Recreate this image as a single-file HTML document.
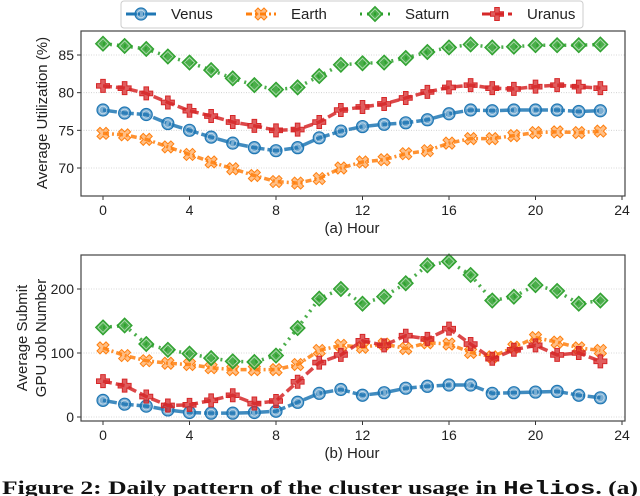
<!DOCTYPE html>
<html><head><meta charset="utf-8"><style>
body{margin:0;background:#fff;width:640px;height:496px;overflow:hidden}
svg{display:block;font-family:"Liberation Sans",sans-serif}
</style></head><body>
<svg id="c" width="640" height="496"></svg>
<script>
const hours=[0,1,2,3,4,5,6,7,8,9,10,11,12,13,14,15,16,17,18,19,20,21,22,23];
const seriesNames=["Venus","Earth","Saturn","Uranus"];
const utilVenus=[77.7,77.3,77.1,75.9,75.0,74.1,73.3,72.7,72.3,72.7,74.0,74.9,75.5,75.8,76.0,76.4,77.2,77.7,77.6,77.7,77.7,77.7,77.5,77.6];
const utilEarth=[74.6,74.4,73.8,72.8,71.8,70.8,69.9,69.0,68.2,68.0,68.6,70.0,70.8,71.1,71.9,72.3,73.3,73.9,73.9,74.3,74.7,74.8,74.7,74.9];
const utilSaturn=[86.5,86.2,85.8,84.8,84.0,83.0,81.9,81.0,80.4,80.7,82.2,83.7,83.9,84.0,84.6,85.4,86.0,86.4,86.0,86.1,86.3,86.3,86.3,86.4];
const utilUranus=[80.9,80.6,79.9,78.7,77.6,76.9,76.1,75.6,75.0,75.1,76.1,77.7,78.1,78.5,79.3,80.1,80.7,81.0,80.6,80.5,80.8,81.0,80.8,80.6];
const jobsVenus=[26,20,17,11,7,6,6,7,9,23,37,43,34,38,45,48,50,50,37,38,39,40,34,30];
const jobsEarth=[108,96,88,84,82,77,74,74,74,82,104,112,109,114,107,116,114,101,94,109,124,117,108,104];
const jobsSaturn=[140,143,114,105,99,92,87,86,96,139,185,200,177,188,209,237,243,222,182,188,206,197,177,182];
const jobsUranus=[56,49,32,18,19,26,34,21,25,55,85,97,119,112,127,122,138,114,91,105,112,97,100,87];
const xTicks=[0,4,8,12,16,20,24];
const yTicksTop=[70,75,80,85];
const yTicksBot=[0,100,200];

const colors=["#1f77b4","#ff7f0e","#2ca02c","#d62728"];
const dashes=["14,3","6,3,2,3","2,5","9,4"];
const NS="http://www.w3.org/2000/svg";
const svg=document.getElementById("c");
function mk(t,a,p){const e=document.createElementNS(NS,t);for(const k in a)e.setAttribute(k,a[k]);(p||svg).appendChild(e);return e;}
const xS=h=>103+h*(622-103)/24;
const yTop=v=>168-(v-70)*(168-55)/15;
const yBot=v=>417-v*0.64;

function marker(g,i,x,y,c){
  if(i===0){mk("circle",{cx:x,cy:y,r:6,fill:c,"fill-opacity":0.6,stroke:c,"stroke-width":1.2},g);mk("circle",{cx:x,cy:y,r:3.8,fill:"none",stroke:"#fff","stroke-width":0.8,"stroke-opacity":0.6},g);}
  else if(i===1){mk("path",{d:`M${x-6},${y-3}l3,-3l3,3l3,-3l3,3l-3,3l3,3l-3,3l-3,-3l-3,3l-3,-3l3,-3z`,fill:c,"fill-opacity":0.5,stroke:c,"stroke-width":1},g);}
  else if(i===2){mk("path",{d:`M${x},${y-7.5}l7.5,7.5l-7.5,7.5l-7.5,-7.5z`,fill:c,"fill-opacity":0.85,stroke:c,"stroke-width":1},g);mk("path",{d:`M${x},${y-5}l5,5l-5,5l-5,-5z`,fill:"none",stroke:"#fff","stroke-width":0.8,"stroke-opacity":0.6},g);}
  else {mk("path",{d:`M${x-2.3},${y-6.5}h4.6v4.2h4.2v4.6h-4.2v4.2h-4.6v-4.2h-4.2v-4.6h4.2z`,fill:c,"fill-opacity":0.75,stroke:c,"stroke-width":1},g);}
}

function panel(name,top,bottom,ticks,yF,data,xlab){
  const g=mk("g",{});
  ticks.forEach(t=>{const y=yF(t);
    const gl=mk("line",{x1:81,x2:625,y1:y,y2:y,stroke:"#ccc","stroke-dasharray":"1,1.5","stroke-width":0.8},g);
    
    mk("line",{x1:77,x2:81,y1:y,y2:y,stroke:"#333"},g);
    const tl=mk("text",{x:74,y:y+5,"text-anchor":"end","font-size":14,fill:"#222"},g);tl.textContent=t;
    
  });
  xTicks.forEach(t=>{const x=xS(t);
    mk("line",{x1:x,x2:x,y1:bottom,y2:bottom+4,stroke:"#333"},g);
    const tl=mk("text",{x:x,y:bottom+19,"text-anchor":"middle","font-size":14,fill:"#222"},g);tl.textContent=t;
    
  });
  data.forEach((arr,i)=>{
    const sg=mk("g",{},g);
    
    
    const pts=arr.map((v,j)=>xS(hours[j])+","+yF(v)).join(" ");
    mk("polyline",{points:pts,fill:"none",stroke:colors[i],"stroke-width":3.5,"stroke-dasharray":dashes[i],"stroke-opacity":0.85},sg);
    arr.forEach((v,j)=>marker(sg,i,xS(hours[j]),yF(v),colors[i]));
  });
  const fr=mk("rect",{x:81,y:top,width:544,height:bottom-top,fill:"none",stroke:"#444","stroke-width":1.2},g);
  
  const xl=mk("text",{x:352,y:bottom+37,"text-anchor":"middle","font-size":15,fill:"#222"},g);xl.textContent=xlab;
  
  return g;
}
panel("utilization-chart",31,196,yTicksTop,yTop,[utilVenus,utilEarth,utilSaturn,utilUranus],"(a) Hour");
panel("submit-jobs-chart",255,421,yTicksBot,yBot,[jobsVenus,jobsEarth,jobsSaturn,jobsUranus],"(b) Hour");

let t=mk("text",{x:0,y:0,"text-anchor":"middle","font-size":15,fill:"#222",transform:"translate(47,113) rotate(-90)"});
t.textContent="Average Utilization (%)";
t=mk("text",{x:0,y:0,"text-anchor":"middle","font-size":15,fill:"#222",transform:"translate(27,338) rotate(-90)"});
t.textContent="Average Submit";
t=mk("text",{x:0,y:0,"text-anchor":"middle","font-size":15,fill:"#222",transform:"translate(46,338) rotate(-90)"});
t.textContent="GPU Job Number";

const lg=mk("g",{});
mk("rect",{x:121,y:1,width:462,height:27,rx:3,fill:"#fff",stroke:"#ccc"},lg);
const lx=[126,246,360,482];
seriesNames.forEach((n,i)=>{
  const eg=mk("g",{},lg);
  mk("line",{x1:lx[i],x2:lx[i]+30,y1:14,y2:14,stroke:colors[i],"stroke-width":3,"stroke-dasharray":dashes[i]},eg);
  marker(eg,i,lx[i]+15,14,colors[i]);
  const tx=mk("text",{x:lx[i]+45,y:19,"font-size":15,fill:"#222"},eg);tx.textContent=n;
});

t=mk("text",{x:2,y:494,"font-size":19,"font-weight":"bold",fill:"#111","font-family":"Liberation Serif,serif",textLength:636,lengthAdjust:"spacingAndGlyphs"});
t.innerHTML='Figure 2: Daily pattern of the cluster usage in <tspan font-family="Liberation Mono,monospace">Helios</tspan>. (a)';

</script>
</body></html>
